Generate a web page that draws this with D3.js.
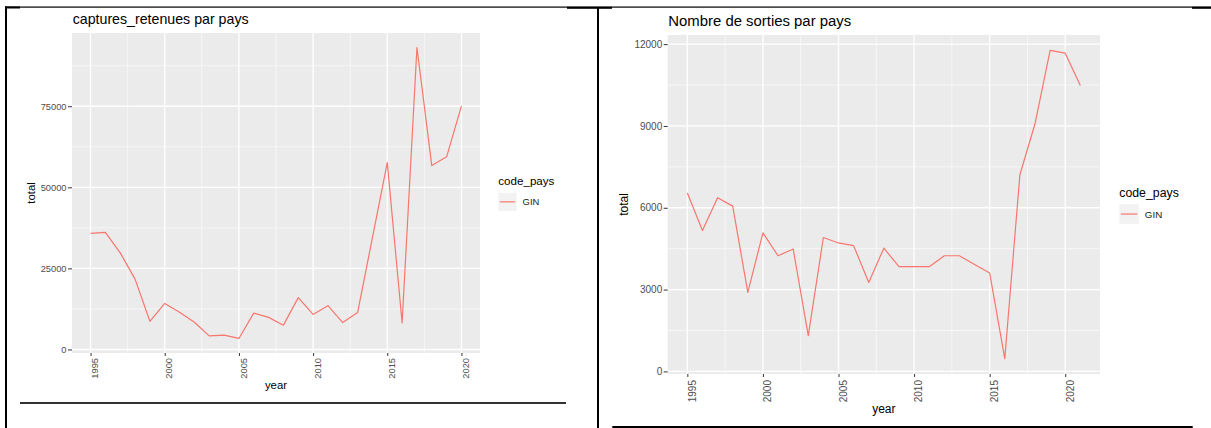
<!DOCTYPE html>
<html><head><meta charset="utf-8">
<script src="https://cdn.jsdelivr.net/npm/d3@7"></script>
<style>
html,body{margin:0;padding:0;background:#fff;}
svg{display:block;font-family:"Liberation Sans",Arial,Helvetica,sans-serif;}
</style></head>
<body><svg id="c" width="1211" height="428"></svg>
<script>
// ---- data ----
const capYears = [1995,1996,1997,1998,1999,2000,2001,2002,2003,2004,2005,2006,2007,2008,2009,2010,2011,2012,2013,2014,2015,2016,2017,2018,2019,2020];
const capTotals = [35800,36100,29800,21700,8700,14200,11500,8400,4200,4400,3400,11200,9900,7500,16000,10800,13500,8300,11400,34500,57600,8200,93100,56700,59400,75100];
const capYTicks = [0,25000,50000,75000];
const capYMinor = [12500,37500,62500,87500];

const sortYears = [1995,1996,1997,1998,1999,2000,2001,2002,2003,2004,2005,2006,2007,2008,2009,2010,2011,2012,2013,2014,2015,2016,2017,2018,2019,2020,2021];
const sortTotals = [6540,5170,6370,6060,2900,5080,4240,4490,1310,4910,4710,4610,3260,4520,3840,3840,3840,4240,4240,3920,3610,470,7210,9080,11770,11670,10480];
const sortYTicks = [0,3000,6000,9000,12000];
const sortYMinor = [1500,4500,7500,10500];

const xTicks = [1995,2000,2005,2010,2015,2020];
const xMinor = [1997.5,2002.5,2007.5,2012.5,2017.5];
const seriesName = "GIN";
const legendTitle = "code_pays";

const svg = d3.select("#c");
const lineColor = "#F8766D";

function expand(ext){ const p=(ext[1]-ext[0])*0.05; return [ext[0]-p, ext[1]+p]; }

function drawChart(o){
  const g = svg.append("g");
  const x = d3.scaleLinear().domain(expand(d3.extent(o.years))).range([o.l,o.r]);
  const y = d3.scaleLinear().domain(expand(d3.extent(o.vals))).range([o.b,o.t]);
  g.append("rect").attr("x",o.l).attr("y",o.t).attr("width",o.r-o.l).attr("height",o.b-o.t).attr("fill","#EBEBEB");
  // minor grid
  g.selectAll(".mx").data(o.xMinor).join("line").attr("x1",d=>x(d)).attr("x2",d=>x(d)).attr("y1",o.t).attr("y2",o.b).attr("stroke","#fff").attr("stroke-width",0.6);
  g.selectAll(".my").data(o.yMinor).join("line").attr("y1",d=>y(d)).attr("y2",d=>y(d)).attr("x1",o.l).attr("x2",o.r).attr("stroke","#fff").attr("stroke-width",0.6);
  // major grid
  g.selectAll(".Mx").data(o.xTicks).join("line").attr("x1",d=>x(d)).attr("x2",d=>x(d)).attr("y1",o.t).attr("y2",o.b).attr("stroke","#fff").attr("stroke-width",1.3);
  g.selectAll(".My").data(o.yTicks).join("line").attr("y1",d=>y(d)).attr("y2",d=>y(d)).attr("x1",o.l).attr("x2",o.r).attr("stroke","#fff").attr("stroke-width",1.3);
  // line
  const line = d3.line().x((d,i)=>x(o.years[i])).y(d=>y(d));
  g.append("path").datum(o.vals).attr("d",line).attr("fill","none").attr("stroke",lineColor).attr("stroke-width",1.2).attr("stroke-linejoin","round");
  // y axis
  const ya = g.append("g").attr("transform",`translate(${o.l},0)`)
    .call(d3.axisLeft(y).tickValues(o.yTicks).tickFormat(d3.format("d")).tickSize(4).tickPadding(1.5));
  ya.select(".domain").remove();
  ya.selectAll("line").attr("stroke","#333").attr("stroke-width",1);
  ya.selectAll("text").attr("fill","#4D4D4D").style("font-size",o.tickFs+"px").attr("font-family",null);
  // x axis
  const xa = g.append("g").attr("transform",`translate(0,${o.b})`)
    .call(d3.axisBottom(x).tickValues(o.xTicks).tickFormat(d3.format("d")).tickSize(3));
  xa.select(".domain").remove();
  xa.selectAll("line").attr("stroke","#333").attr("stroke-width",1);
  xa.selectAll("text").attr("fill","#4D4D4D").style("font-size",o.tickFs+"px").attr("font-family",null)
    .attr("transform","rotate(-90)").attr("text-anchor","end").attr("x",-o.xlabOff).attr("y",0).attr("dy","0.78em");
  // titles
  g.append("text").attr("x",o.l+o.titleDx).attr("y",o.titleY).text(o.title).style("font-size",o.titleFs+"px").attr("fill","#000");
  g.append("text").attr("x",(o.l+o.r)/2).attr("y",o.yearY).attr("text-anchor","middle").text("year").style("font-size",o.labFs+"px").attr("fill","#000");
  g.append("text").attr("transform",`translate(${o.totalX},${(o.t+o.b)/2}) rotate(-90)`).attr("text-anchor","middle").text("total").style("font-size",o.labFs+"px").attr("fill","#000");
  // legend
  g.append("text").attr("x",o.legX).attr("y",o.legTitleY).text(legendTitle).style("font-size",o.legFs+"px").attr("fill","#000");
  g.append("rect").attr("x",o.legX).attr("y",o.keyY).attr("width",o.keySize).attr("height",o.keySize).attr("fill","#F2F2F2");
  g.append("line").attr("x1",o.legX+1.5).attr("x2",o.legX+o.keySize-1.5).attr("y1",o.keyY+o.keySize/2).attr("y2",o.keyY+o.keySize/2).attr("stroke",lineColor).attr("stroke-width",1.2);
  g.append("text").attr("x",o.legX+o.keySize+6).attr("y",o.keyY+o.keySize/2).attr("dy","0.36em").text(seriesName).style("font-size",o.keyFs+"px").attr("fill","#1a1a1a");
}

drawChart({years:capYears, vals:capTotals, yTicks:capYTicks, yMinor:capYMinor, xTicks:xTicks, xMinor:xMinor,
  l:72, r:480, t:33, b:353, tickFs:9.3, xlabOff:5, title:"captures_retenues par pays", titleDx:0.7, titleY:24, titleFs:14.2,
  yearY:389.3, labFs:11.4, totalX:35, legX:498.3, legTitleY:185, legFs:11.6, keyY:192.7, keySize:18.3, keyFs:9.4});

drawChart({years:sortYears, vals:sortTotals, yTicks:sortYTicks, yMinor:sortYMinor, xTicks:xTicks, xMinor:xMinor,
  l:667.7, r:1100, t:35, b:374, tickFs:10, xlabOff:6, title:"Nombre de sorties par pays", titleDx:0.6, titleY:25.7, titleFs:14.9,
  yearY:413.3, labFs:12, totalX:628, legX:1119.3, legTitleY:196.7, legFs:12.3, keyY:204.3, keySize:19.5, keyFs:9.8});

// ---- frame lines ----
const frame = svg.append("g").attr("fill","#000");
frame.append("rect").attr("x",5).attr("y",6.5).attr("width",1206).attr("height",1.2);
frame.append("rect").attr("x",5).attr("y",6.5).attr("width",15).attr("height",2);
frame.append("rect").attr("x",567).attr("y",6.8).attr("width",45).attr("height",2);
frame.append("rect").attr("x",1192).attr("y",6.8).attr("width",19).attr("height",2);
frame.append("rect").attr("x",5).attr("y",6.5).attr("width",2).attr("height",422);
frame.append("rect").attr("x",597).attr("y",7).attr("width",2).attr("height",421);
frame.append("rect").attr("x",20).attr("y",402.2).attr("width",546).attr("height",1.6);
frame.append("rect").attr("x",612.3).attr("y",426).attr("width",580.4).attr("height",2);
</script></body></html>
